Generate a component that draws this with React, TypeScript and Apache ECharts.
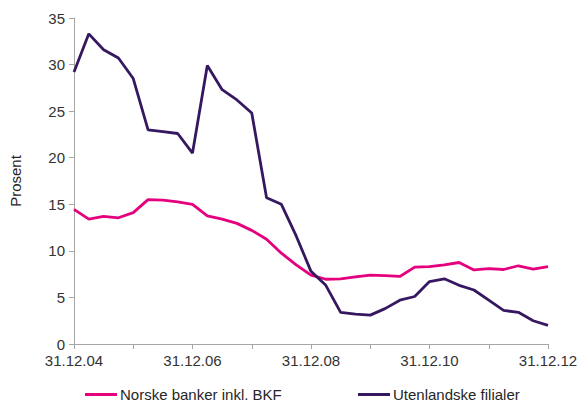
import React, { useEffect, useRef } from "react";
import * as echarts from "echarts";

const quarters: string[] = (() => {
  const out: string[] = [];
  const ends = ["31.03", "30.06", "30.09", "31.12"];
  out.push("31.12.04");
  for (let y = 5; y <= 12; y++) {
    for (const e of ends) out.push(`${e}.${String(y).padStart(2, "0")}`);
  }
  return out;
})();

const norske: number[] = [
  14.45, 13.4, 13.7, 13.55, 14.1, 15.5, 15.45, 15.25, 15.0, 13.75, 13.4, 12.95,
  12.2, 11.25, 9.75, 8.5, 7.4, 6.95, 7.0, 7.2, 7.4, 7.35, 7.25, 8.25, 8.3, 8.5,
  8.75, 7.95, 8.1, 8.0, 8.4, 8.05, 8.3,
];

const utenlandske: number[] = [
  29.2, 33.3, 31.6, 30.7, 28.5, 23.0, 22.8, 22.6, 20.5, 29.9, 27.3, 26.2, 24.8,
  15.7, 15.0, 11.6, 7.8, 6.3, 3.4, 3.2, 3.1, 3.8, 4.7, 5.1, 6.7, 7.0, 6.3, 5.8,
  4.7, 3.6, 3.4, 2.5, 2.0,
];

const seriesNames = ["Norske banker inkl. BKF", "Utenlandske filialer"];
const PINK = "#e5007e";
const PURPLE = "#361860";
const FONT = "Liberation Sans, Arial, sans-serif";

export default function App() {
  const ref = useRef<HTMLDivElement>(null);
  useEffect(() => {
    document.body.style.margin = "0";
    if (!ref.current) return;
    const chart = echarts.init(ref.current, undefined, { renderer: "svg" });
    const legendBase = {
      orient: "horizontal" as const,
      bottom: -5,
      itemWidth: 32,
      itemHeight: 3,
      itemGap: 4,
      icon: "rect",
      textStyle: { fontFamily: FONT, fontSize: 15, color: "#262626", padding: [0, 0, 0, -2] },
    };
    chart.setOption({
      animation: false,
      backgroundColor: "#ffffff",
      textStyle: { fontFamily: FONT },
      grid: { left: 74, right: 33, top: 18, bottom: 58 },
      legend: [
        { ...legendBase, left: 80, data: [seriesNames[0]] },
        { ...legendBase, left: 353, data: [seriesNames[1]] },
      ],
      xAxis: {
        type: "category",
        data: quarters,
        boundaryGap: false,
        axisLine: { lineStyle: { color: "#a6a6a6", width: 1 } },
        axisTick: { interval: 3, length: 5, lineStyle: { color: "#a6a6a6" } },
        axisLabel: {
          interval: 7,
          fontSize: 15,
          color: "#333333",
          margin: 9,
          fontFamily: FONT,
        },
        splitLine: { show: false },
      },
      yAxis: {
        type: "value",
        min: 0,
        max: 35,
        interval: 5,
        name: "Prosent",
        nameLocation: "middle",
        nameRotate: 90,
        nameGap: 51,
        nameTextStyle: { fontSize: 15, color: "#262626", fontFamily: FONT },
        axisLine: { show: true, lineStyle: { color: "#a6a6a6", width: 1 } },
        axisTick: { show: true, length: 5, lineStyle: { color: "#a6a6a6" } },
        axisLabel: { fontSize: 15, color: "#333333", margin: 9, fontFamily: FONT },
        splitLine: { show: false },
      },
      series: [
        {
          name: seriesNames[0],
          type: "line",
          data: norske,
          symbol: "none",
          lineStyle: { color: PINK, width: 2.8 },
          itemStyle: { color: PINK },
          z: 2,
        },
        {
          name: seriesNames[1],
          type: "line",
          data: utenlandske,
          symbol: "none",
          lineStyle: { color: PURPLE, width: 2.8 },
          itemStyle: { color: PURPLE },
          z: 3,
        },
      ],
    });
    return () => chart.dispose();
  }, []);
  return <div ref={ref} style={{ width: 581, height: 402 }} />;
}
